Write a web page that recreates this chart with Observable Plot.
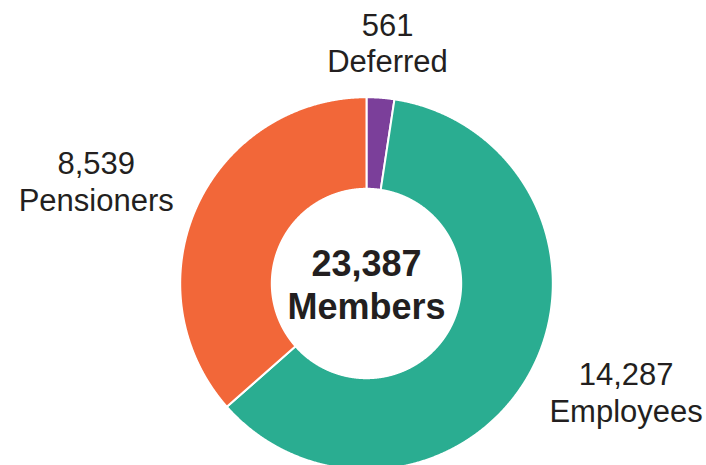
<!DOCTYPE html>
<html>
<head>
<meta charset="utf-8">
<script src="https://cdn.jsdelivr.net/npm/d3@7"></script>
<script src="https://cdn.jsdelivr.net/npm/@observablehq/plot@0.6"></script>
<style>
  html, body { margin: 0; padding: 0; background: #fff; overflow: hidden; }
  #chart svg { display: block; }
</style>
</head>
<body>
<div id="chart"></div>
<script>
// Data
const categories = ["Deferred", "Employees", "Pensioners"];
const members = [561, 14287, 8539];
const colors = ["#7B3F9A", "#2AAD91", "#F26739"];
const centerLabel = "Members";

const rows = categories.map((name, i) => ({name, value: members[i]}));
const total = d3.sum(members);
const fmt = d3.format(",");

// Layout (pixels)
const W = 706, H = 465;
const cx = 366, cy = 283, R = 186.3, rIn = 94.7;
const inner = rIn / R;
const font = "'Liberation Sans', Arial, Helvetica, sans-serif";
const labelSize = 31, labelLH = 1.19;

// Pie geometry derived from the data
const arcs = d3.pie().sort(null).value(d => d.value)(rows);
const poly = [];
arcs.forEach(a => {
  const n = Math.max(2, Math.ceil((a.endAngle - a.startAngle) / 0.004));
  for (let i = 0; i <= n; i++) {
    const t = a.startAngle + (a.endAngle - a.startAngle) * i / n;
    poly.push({name: a.data.name, x: Math.sin(t), y: Math.cos(t)});
  }
  for (let i = n; i >= 0; i--) {
    const t = a.startAngle + (a.endAngle - a.startAngle) * i / n;
    poly.push({name: a.data.name, x: inner * Math.sin(t), y: inner * Math.cos(t)});
  }
});

// Outside labels: centered text blocks placed just beyond each slice's mid-angle
const ctx = document.createElement("canvas").getContext("2d");
ctx.font = `${labelSize}px ${font}`;
const gapX = 219, gapY = 203, liftY = 5; // px
const labels = arcs.map(a => {
  const m = (a.startAngle + a.endAngle) / 2;
  const s = Math.sin(m), c = Math.cos(m);
  const lines = [fmt(a.data.value), a.data.name];
  const w = d3.max(lines, l => ctx.measureText(l).width);
  const h = labelSize * labelLH * lines.length - (labelLH - 1) * labelSize;
  const px = s * (gapX + w / 2);
  const py = c * (gapY + h / 2) + liftY;
  return {text: lines.join("\n"), x: px / R, y: py / R};
});

const chart = Plot.plot({
  width: W, height: H,
  margin: 0,
  x: {domain: [-1, 1], range: [cx - R, cx + R], axis: null},
  y: {domain: [-1, 1], range: [cy + R, cy - R], axis: null},
  color: {domain: categories, range: colors},
  style: {fontFamily: font, background: "white"},
  marks: [
    Plot.line(poly, {
      x: "x", y: "y", z: "name", fill: "name",
      stroke: "white", strokeWidth: 2, curve: "linear-closed"
    }),
    Plot.text([total], {
      x: () => 0, y: () => 0,
      text: d => fmt(d) + "\n" + centerLabel,
      fontSize: 36, fontWeight: "bold", lineHeight: 1.2,
      fill: "#231F20", fontFamily: font
    }),
    Plot.text(labels, {
      x: "x", y: "y", text: "text",
      textAnchor: "middle", lineAnchor: "middle",
      fontSize: labelSize, lineHeight: labelLH, fill: "#231F20", fontFamily: font
    })
  ]
});

document.getElementById("chart").appendChild(chart);
</script>
</body>
</html>
